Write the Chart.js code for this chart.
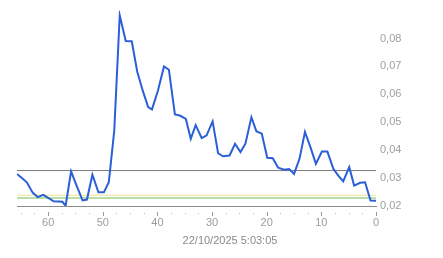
<!DOCTYPE html>
<html>
<head>
<meta charset="utf-8">
<script src="https://cdn.jsdelivr.net/npm/chart.js@4.4.1/dist/chart.umd.min.js"></script>
<style>
    html, body { margin: 0; padding: 0; background: #fff; }
</style>
</head>
<body>
<canvas id="chart" width="443" height="258"></canvas>
<script>
// Datos
const elapsed = [65.7, 64.8, 63.9, 62.8, 61.9, 60.9, 59.9, 59.0, 58.0, 57.4, 56.8, 55.8, 54.8, 53.7, 52.9,
    51.9, 50.8, 49.8, 48.9, 47.9, 46.9, 45.8, 44.7, 43.7, 42.7, 41.7, 41.0, 39.9, 38.8, 37.9, 36.8, 35.9,
    34.8, 33.9, 33.0, 31.9, 31.0, 29.9, 28.9, 28.0, 26.8, 25.8, 24.8, 23.9, 22.8, 21.9, 20.9, 19.9, 18.9,
    17.9, 16.8, 15.9, 15.0, 14.0, 13.0, 12.0, 11.0, 9.9, 8.9, 7.8, 6.9, 6.0, 4.9, 4.0, 2.9, 2.0, 1.0, 0];
const price = [0.0315, 0.0300, 0.0285, 0.0247, 0.0232, 0.0240, 0.0228, 0.0217, 0.0216, 0.0215, 0.0201, 0.0324,
    0.0273, 0.0220, 0.0223, 0.0312, 0.0249, 0.0249, 0.0285, 0.0470, 0.0883, 0.0791, 0.0790, 0.0682, 0.0614,
    0.0554, 0.0546, 0.0614, 0.0700, 0.0688, 0.0528, 0.0524, 0.0512, 0.0441, 0.0490, 0.0443, 0.0453, 0.0503,
    0.0389, 0.0378, 0.0381, 0.0423, 0.0393, 0.0423, 0.0518, 0.0468, 0.0459, 0.0373, 0.0371, 0.0337, 0.0330,
    0.0332, 0.0315, 0.0369, 0.0465, 0.0411, 0.0351, 0.0395, 0.0395, 0.0333, 0.0309, 0.0288, 0.0339, 0.0273,
    0.0283, 0.0285, 0.0220, 0.0219];

// Lineas de referencia horizontales
const refLevels = [0.0327, 0.0239, 0.0229];
const refColors = ['#7a7a7a', '#e8e28e', '#b9dfa8'];
const refWidths = [1, 1, 2];

const xMajorTicks = [0, 10, 20, 30, 40, 50, 60];
const xMinorTicks = [2.5, 5, 7.5, 12.5, 15, 17.5, 22.5, 25, 27.5, 32.5, 35, 37.5, 42.5, 45, 47.5,
    52.5, 55, 57.5, 62.5, 65];
const yTickValues = [0.02, 0.03, 0.04, 0.05, 0.06, 0.07, 0.08];
const timeLabel = '22/10/2025 5:03:05';

const X_MAX = 65.7;

// Marcas del eje X separadas de la linea base
const axisTicksPlugin = {
    id: 'axisTicks',
    afterDraw(chart) {
        const ctx = chart.ctx;
        const xs = chart.scales.x;
        const base = chart.chartArea.bottom;
        ctx.save();
        ctx.strokeStyle = '#9a9a9a';
        ctx.lineWidth = 1;
        xMajorTicks.forEach(v => {
            const px = Math.round(xs.getPixelForValue(v)) + 0.5;
            ctx.beginPath();
            ctx.moveTo(px, base + 6);
            ctx.lineTo(px, base + 10);
            ctx.stroke();
        });
        ctx.strokeStyle = '#b8b8b8';
        xMinorTicks.forEach(v => {
            const px = Math.round(xs.getPixelForValue(v)) + 0.5;
            ctx.beginPath();
            ctx.moveTo(px, base + 7);
            ctx.lineTo(px, base + 8);
            ctx.stroke();
        });
        ctx.restore();
    }
};

const datasets = [{
    data: elapsed.map((x, i) => ({ x: x, y: price[i] })),
    borderColor: '#2a5fd8',
    borderWidth: 2,
    pointRadius: 0,
    tension: 0,
    fill: false
}];

refLevels.forEach((lvl, i) => {
    datasets.push({
        data: [{ x: 0, y: lvl }, { x: X_MAX, y: lvl }],
        borderColor: refColors[i],
        borderWidth: refWidths[i],
        pointRadius: 0,
        fill: false
    });
});

new Chart(document.getElementById('chart'), {
    type: 'line',
    data: { datasets: datasets },
    plugins: [axisTicksPlugin],
    options: {
        responsive: false,
        animation: false,
        devicePixelRatio: 1,
        layout: { padding: { left: 17, top: 10, right: 0, bottom: 0 } },
        plugins: {
            legend: { display: false },
            tooltip: { enabled: false },
            title: {
                display: true,
                position: 'bottom',
                text: timeLabel,
                color: '#8a8a8a',
                font: { family: 'Liberation Sans, Arial, sans-serif', size: 11, weight: 'normal' },
                padding: { top: 0, bottom: 10 }
            }
        },
        scales: {
            x: {
                type: 'linear',
                reverse: true,
                min: 0,
                max: X_MAX,
                grid: { display: false, drawTicks: false },
                border: { display: true, color: '#8a8a8a', width: 1 },
                afterFit: function(scale) { scale.height = 28.8; },
                afterBuildTicks: function(scale) {
                    scale.ticks = xMajorTicks.map(v => ({ value: v }));
                },
                ticks: {
                    autoSkip: false,
                    maxRotation: 0,
                    padding: 10,
                    color: '#9c9c9c',
                    font: { family: 'Liberation Sans, Arial, sans-serif', size: 11 }
                }
            },
            y: {
                position: 'right',
                min: 0.02,
                max: 0.09,
                grid: { display: false, drawTicks: false },
                border: { display: false },
                afterFit: function(scale) { scale.width = 67; },
                afterBuildTicks: function(scale) {
                    scale.ticks = yTickValues.map(v => ({ value: v }));
                },
                ticks: {
                    padding: 4,
                    color: '#a0a0a0',
                    font: { family: 'Liberation Sans, Arial, sans-serif', size: 11 },
                    callback: function(value) {
                        return value.toFixed(2).replace('.', ',');
                    }
                }
            }
        }
    }
});
</script>
</body>
</html>
